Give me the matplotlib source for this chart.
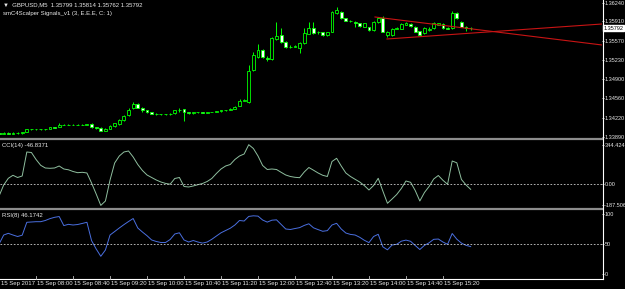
import numpy as np
import matplotlib
matplotlib.use('Agg')
import matplotlib.pyplot as plt
from matplotlib.lines import Line2D
import matplotlib.transforms as mtransforms
from matplotlib import font_manager

# ---- data: GBPUSD M5, 15 Sep 2017 07:20 - 15:50 ----
opens = [
    1.33954, 1.33945, 1.33954, 1.33945, 1.33954, 1.33951, 1.33977, 1.34019, 1.34016, 1.34021,
    1.34017, 1.34021, 1.34059, 1.34068, 1.34103, 1.34098, 1.34095, 1.34102, 1.34095, 1.34100,
    1.34112, 1.34059, 1.34045, 1.33998, 1.34033, 1.34080, 1.34112, 1.34182, 1.34270, 1.34384,
    1.34458, 1.34401, 1.34357, 1.34317, 1.34291, 1.34282, 1.34286, 1.34280, 1.34305, 1.34357,
    1.34370, 1.34322, 1.34305, 1.34314, 1.34319, 1.34312, 1.34321, 1.34326, 1.34337, 1.34349,
    1.34361, 1.34382, 1.34436, 1.34524, 1.34503, 1.35059, 1.35287, 1.35410, 1.35270, 1.35252,
    1.35603, 1.35673, 1.35550, 1.35471, 1.35466, 1.35445, 1.35533, 1.35691, 1.35796, 1.35717,
    1.35726, 1.35673, 1.35726, 1.36059, 1.36077, 1.35971, 1.35919, 1.35901, 1.35884, 1.35814,
    1.35814, 1.35761, 1.35901, 1.35971, 1.35673, 1.35673, 1.35787, 1.35778, 1.35849, 1.35866,
    1.35814, 1.35743, 1.35708, 1.35761, 1.35796, 1.35849, 1.35866, 1.35796, 1.35796, 1.36059,
    1.35901, 1.35814, 1.35799]
highs = [
    1.33963, 1.33963, 1.33963, 1.33963, 1.33963, 1.33968, 1.34024, 1.34024, 1.34024, 1.34030,
    1.34028, 1.34068, 1.34062, 1.34138, 1.34112, 1.34108, 1.34110, 1.34112, 1.34110, 1.34117,
    1.34121, 1.34068, 1.34054, 1.34042, 1.34089, 1.34138, 1.34200, 1.34278, 1.34384, 1.34498,
    1.34489, 1.34410, 1.34366, 1.34331, 1.34305, 1.34294, 1.34294, 1.34298, 1.34366, 1.34393,
    1.34379, 1.34331, 1.34322, 1.34322, 1.34326, 1.34326, 1.34331, 1.34340, 1.34357, 1.34366,
    1.34384, 1.34419, 1.34551, 1.34545, 1.35147, 1.35380, 1.35515, 1.35428, 1.35305, 1.35638,
    1.35901, 1.35796, 1.35568, 1.35489, 1.35498, 1.35542, 1.35796, 1.35901, 1.35901, 1.35743,
    1.35734, 1.35734, 1.36094, 1.36164, 1.36094, 1.35980, 1.35936, 1.35919, 1.35892, 1.35892,
    1.35822, 1.35919, 1.35989, 1.36006, 1.35743, 1.35796, 1.35814, 1.35884, 1.35901, 1.35884,
    1.35831, 1.35752, 1.35814, 1.35805, 1.35901, 1.35892, 1.35875, 1.35805, 1.36094, 1.36085,
    1.35919, 1.35831, 1.35814]
lows = [
    1.33937, 1.33937, 1.33937, 1.33937, 1.33940, 1.33940, 1.33972, 1.34007, 1.34007, 1.34012,
    1.34010, 1.34016, 1.34042, 1.34059, 1.34090, 1.34088, 1.34088, 1.34088, 1.34088, 1.34092,
    1.34050, 1.34028, 1.33981, 1.33981, 1.34024, 1.34068, 1.34103, 1.34173, 1.34252, 1.34375,
    1.34393, 1.34322, 1.34305, 1.34279, 1.34270, 1.34273, 1.34273, 1.34273, 1.34296, 1.34331,
    1.34165, 1.34296, 1.34296, 1.34305, 1.34305, 1.34305, 1.34314, 1.34319, 1.34331, 1.34340,
    1.34352, 1.34375, 1.34428, 1.34507, 1.34489, 1.35050, 1.35278, 1.35270, 1.35217, 1.35235,
    1.35585, 1.35533, 1.35445, 1.35445, 1.35454, 1.35357, 1.35524, 1.35682, 1.35699, 1.35699,
    1.35664, 1.35664, 1.35717, 1.36050, 1.35962, 1.35910, 1.35901, 1.35814, 1.35822, 1.35805,
    1.35752, 1.35752, 1.35892, 1.35717, 1.35638, 1.35664, 1.35770, 1.35770, 1.35840, 1.35822,
    1.35717, 1.35664, 1.35691, 1.35752, 1.35787, 1.35840, 1.35787, 1.35770, 1.35787, 1.35962,
    1.35805, 1.35743, 1.35762]
closes = [
    1.33945, 1.33954, 1.33945, 1.33954, 1.33951, 1.33963, 1.34019, 1.34016, 1.34021, 1.34017,
    1.34021, 1.34059, 1.34050, 1.34103, 1.34098, 1.34095, 1.34102, 1.34095, 1.34100, 1.34107,
    1.34054, 1.34037, 1.33989, 1.34030, 1.34080, 1.34124, 1.34182, 1.34261, 1.34366, 1.34463,
    1.34398, 1.34349, 1.34317, 1.34291, 1.34282, 1.34286, 1.34280, 1.34291, 1.34357, 1.34364,
    1.34322, 1.34305, 1.34314, 1.34319, 1.34312, 1.34321, 1.34326, 1.34337, 1.34349, 1.34361,
    1.34382, 1.34410, 1.34524, 1.34530, 1.35050, 1.35322, 1.35410, 1.35287, 1.35252, 1.35612,
    1.35656, 1.35550, 1.35463, 1.35463, 1.35475, 1.35533, 1.35708, 1.35796, 1.35708, 1.35726,
    1.35673, 1.35726, 1.36077, 1.36112, 1.35971, 1.35919, 1.35913, 1.35884, 1.35831, 1.35884,
    1.35761, 1.35901, 1.35971, 1.35726, 1.35726, 1.35778, 1.35796, 1.35866, 1.35884, 1.35831,
    1.35726, 1.35673, 1.35796, 1.35787, 1.35884, 1.35875, 1.35796, 1.35778, 1.36059, 1.35971,
    1.35814, 1.35796, 1.35792]

cci = [
    -105.1, -8.8, 49.9, 76.2, 56.9, 70.1, 280.3, 275.9, 214.6, 163.8,
    140.2, 137.5, 140.2, 157.7, 131.4, 124.4, 109.5, 99.0, 102.5, 96.4,
    8.8, -87.6, -187.5, -148.9, 35.0, 184.0, 245.3, 280.3, 289.1, 236.5,
    170.8, 118.3, 78.8, 56.9, 35.0, 17.5, 5.3, -1.8, 48.2, 56.9,
    -21.9, -26.3, -17.5, -6.1, 4.4, 21.9, 48.2, 92.0, 131.4, 157.7,
    170.8, 214.6, 245.3, 262.8, 344.4, 311.0, 245.3, 162.1, 127.0, 131.4,
    127.0, 102.5, 78.8, 65.7, 58.7, 55.2, 105.1, 144.5, 120.9, 96.4,
    76.2, 65.7, 197.1, 225.1, 157.7, 96.4, 65.7, 41.2, 17.5, -14.0,
    -52.6, -13.1, 49.9, -61.3, -169.1, -131.4, -92.0, -39.4, 26.3, 14.9,
    -56.9, -148.9, -74.5, -21.9, 43.8, 74.5, 32.4, -2.6, 201.5, 185.7,
    39.4, -8.8, -46.8]
rsi = [
    50.5, 65.5, 68.3, 65.5, 63.0, 65.2, 86.7, 87.2, 87.7, 87.7,
    89.7, 92.8, 95.0, 96.3, 81.2, 83.3, 82.2, 83.0, 84.8, 86.7,
    56.3, 42.2, 30.0, 40.5, 65.5, 71.3, 77.2, 82.8, 88.0, 93.0,
    77.2, 70.5, 64.3, 57.2, 54.7, 53.0, 53.0, 58.0, 67.2, 69.2,
    57.2, 53.8, 56.3, 53.8, 52.0, 53.8, 58.3, 63.8, 69.2, 73.0,
    76.8, 82.2, 89.7, 88.8, 96.5, 97.5, 97.0, 90.5, 87.0, 90.2,
    90.8, 83.2, 75.5, 74.7, 76.3, 77.8, 81.5, 84.2, 77.5, 74.5,
    71.7, 72.8, 82.2, 85.0, 75.5, 68.8, 66.5, 65.5, 61.7, 56.7,
    52.8, 63.0, 66.7, 45.8, 40.8, 48.8, 50.0, 55.2, 57.0, 55.0,
    48.0, 41.3, 48.2, 52.5, 58.3, 58.8, 53.8, 50.0, 68.0, 58.5,
    52.0, 48.2, 46.2]

price_ticks = [1.36240, 1.35910, 1.35570, 1.35230, 1.34900, 1.34560, 1.34220, 1.33890]
cci_ticks = [344.424, 0.0, -187.506]
cci_tick_labels = ['344.424', '0.00', '-187.506']
rsi_ticks = [100, 50, 0]

time_idx = [0, 8, 16, 24, 32, 40, 48, 56, 64, 72, 80, 88, 96]
time_labels = ['15 Sep 2017', '15 Sep 08:00', '15 Sep 08:40', '15 Sep 09:20', '15 Sep 10:00',
               '15 Sep 10:40', '15 Sep 11:20', '15 Sep 12:00', '15 Sep 12:40', '15 Sep 13:20',
               '15 Sep 14:00', '15 Sep 14:40', '15 Sep 15:20']

# trend lines (bar index, price)
trend_a = [(81.3, 1.35989), (130.4, 1.35498)]
trend_b = [(83.9, 1.35603), (130.4, 1.35866)]

header = '\u25bc  GBPUSD,M5  1.35799 1.35814 1.35762 1.35792'
subheader = 'smC4Scalper Signals_v1 (3, E.E.E, C: 1)'

# small, narrow font like the terminal
names = {f.name for f in font_manager.fontManager.ttflist}
if 'Liberation Sans Narrow' in names:
    FONT, FS, AFS = 'Liberation Sans Narrow', 5.0, 4.6
else:
    FONT, FS, AFS = 'Liberation Sans', 4.3, 4.0
plt.rcParams['font.family'] = [FONT, 'DejaVu Sans']

# ---- figure ----
W, H = 625, 289
fig = plt.figure(figsize=(W / 100, H / 100), dpi=100, facecolor='black')
TXT = '#e8e8e8'


def panel(top, bottom):
    a = fig.add_axes([0, 1 - bottom / H, 602 / W, (bottom - top) / H])
    a.set_facecolor('black')
    for s in a.spines.values():
        s.set_visible(False)
    a.set_xlim(0.2, 130.4)
    a.set_xticks([])
    a.yaxis.tick_right()
    a.tick_params(axis='y', colors=TXT, labelsize=AFS, length=1.5, width=0.6, pad=0.5)
    return a


ax = panel(0, 137)
ax_cci = panel(140, 207)
ax_rsi = panel(210, 278)

# candles
x = np.arange(len(closes))
o = np.array(opens)
c = np.array(closes)
up = c >= o
ax.vlines(x, lows, highs, color='#00ff00', lw=0.7, zorder=2)
body_lo = np.minimum(o, c)
body_h = np.maximum(np.abs(c - o), 0.00002)
ax.bar(x, body_h, 0.62, bottom=body_lo, color=np.where(up, 'black', 'white'),
       edgecolor='#00ff00', linewidth=0.6, zorder=3)
ax.set_ylim(1.33884, 1.36287)
ax.set_yticks(price_ticks)
ax.set_yticklabels(['%.5f' % p for p in price_ticks])

for tl in (trend_a, trend_b):
    (x0, y0), (x1, y1) = tl
    ax.plot([x0, x1], [y0, y1], color='#c81414', lw=0.8, zorder=4)

ax.text(1.003, closes[-1], '%.5f' % closes[-1],
        transform=mtransforms.blended_transform_factory(ax.transAxes, ax.transData),
        fontsize=AFS, color='black', va='center', ha='left', clip_on=False,
        bbox=dict(boxstyle='square,pad=0.1', fc='white', ec='white'))

# CCI
ax_cci.plot(x, cci, color='#8fbf9f', lw=0.7)
ax_cci.axhline(0, color='#d0d0d0', lw=0.6, ls=(0, (2, 2)))
ax_cci.set_ylim(-201.5, 385.4)
ax_cci.set_yticks(cci_ticks)
ax_cci.set_yticklabels(cci_tick_labels)

# RSI
ax_rsi.plot(x, rsi, color='#4a6fe0', lw=0.7)
ax_rsi.axhline(50, color='#d0d0d0', lw=0.6, ls=(0, (2, 2)))
ax_rsi.set_ylim(-6.2, 107.2)
ax_rsi.set_yticks(rsi_ticks)
ax_rsi.set_yticklabels([str(v) for v in rsi_ticks])


# frame: separators and axis lines (pixel coords)
def fig_line(xs, ys, **kw):
    fig.add_artist(Line2D([v / W for v in xs], [1 - v / H for v in ys], **kw))


fig_line([0, 602], [138.5, 138.5], color='#8c8c8c', lw=1.6)
fig_line([0, 602], [208.5, 208.5], color='#8c8c8c', lw=1.6)
fig_line([602.5, 602.5], [0, 278.5], color='white', lw=0.8)
fig_line([0, 602.5], [278.5, 278.5], color='white', lw=0.8)

# time axis labels
for i, lab in zip(time_idx, time_labels):
    xp = max(-1 + 4.625 * i, 0)
    if i > 0:
        fig_line([xp, xp], [275.5, 278.5], color='#c0c0c0', lw=0.6)
    fig.text((xp + 1) / W, 1 - 284 / H, lab, fontsize=FS, color=TXT, ha='left', va='center')

# indicator / header texts
fig.text(3 / W, 1 - 4.5 / H, header, fontsize=FS, color=TXT, ha='left', va='center')
fig.text(3 / W, 1 - 13 / H, subheader, fontsize=FS, color=TXT, ha='left', va='center')
fig.text(2 / W, 1 - 145 / H, 'CCI(14) -46.8371', fontsize=FS, color=TXT, ha='left', va='center')
fig.text(2 / W, 1 - 215 / H, 'RSI(8) 46.1742', fontsize=FS, color=TXT, ha='left', va='center')

fig.savefig('out.png', dpi=100, facecolor='black')
